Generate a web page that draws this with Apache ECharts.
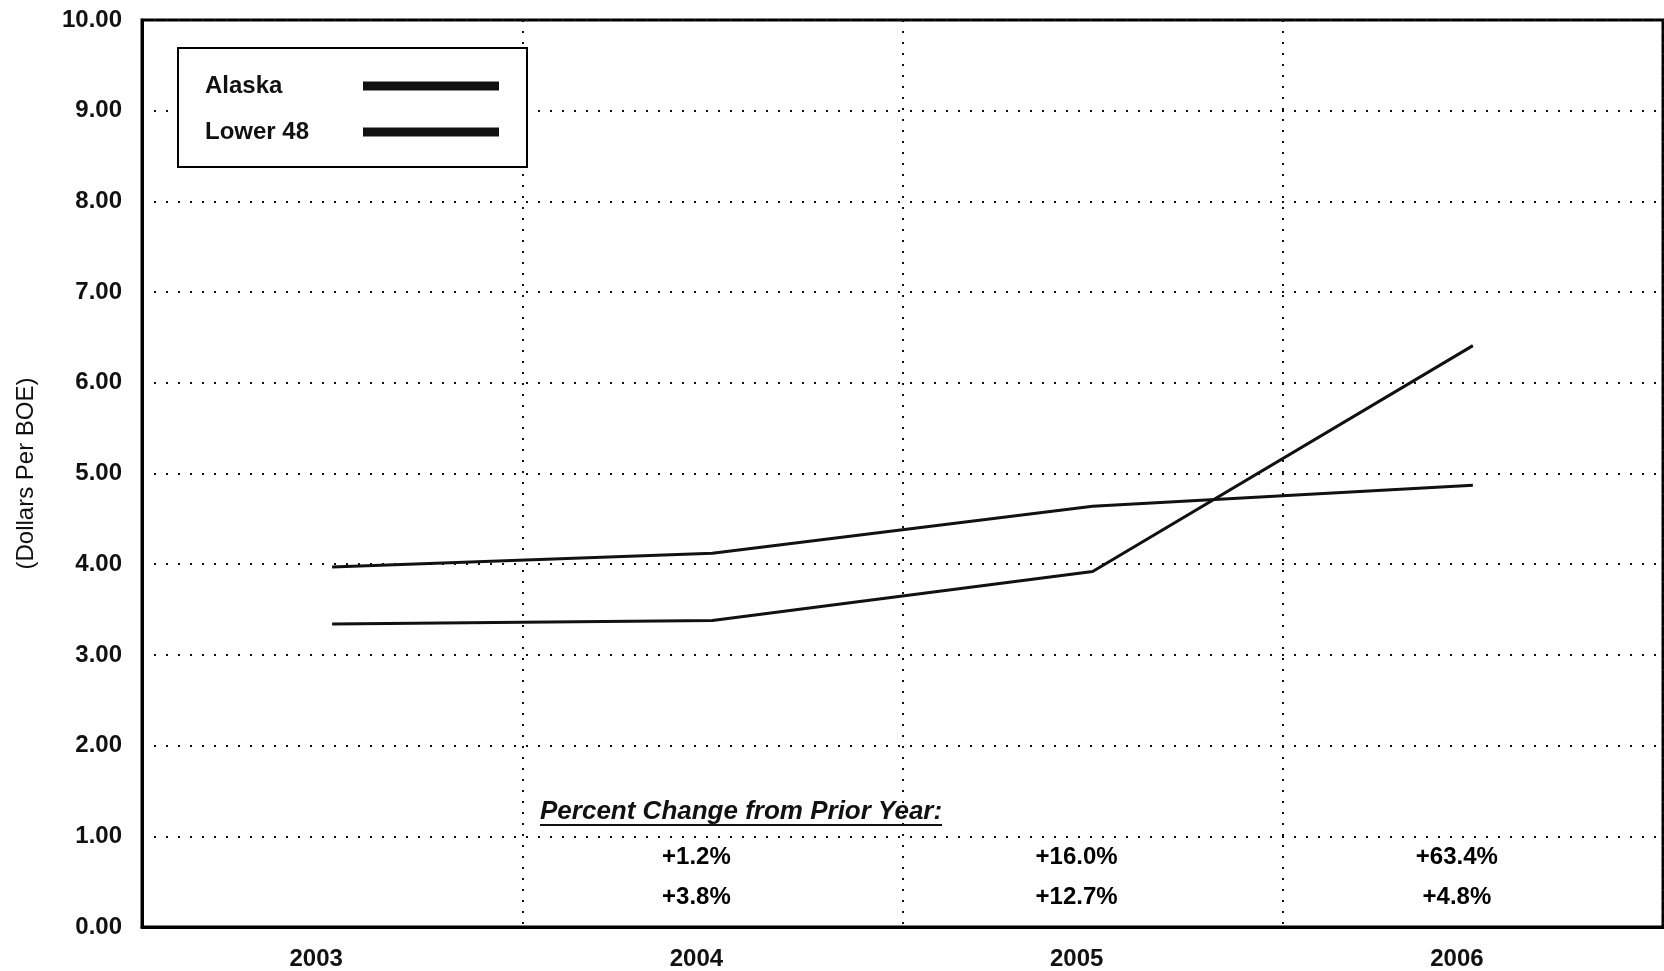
<!DOCTYPE html>
<html>
<head>
<meta charset="utf-8">
<title>Dollars Per BOE</title>
<script src="https://cdn.jsdelivr.net/npm/echarts@6/dist/echarts.min.js"></script>
<style>
  html, body { margin: 0; padding: 0; background: #fff; }
  #chart { width: 1664px; height: 971px; }
</style>
</head>
<body>
<div id="chart"></div>
<script>
// data
const years = ['2003', '2004', '2005', '2006'];
const alaska = [3.34, 3.38, 3.92, 6.41];
const lower48 = [3.97, 4.12, 4.64, 4.87];
const yTicks = [0, 1, 2, 3, 4, 5, 6, 7, 8, 9, 10];
// percent change from prior year, 2004..2006
const pctYears = ['2004', '2005', '2006'];
const alaskaPct = ['+1.2%', '+16.0%', '+63.4%'];
const lower48Pct = ['+3.8%', '+12.7%', '+4.8%'];

const FONT = '"Liberation Sans", Arial, sans-serif';

let chart = echarts.init(document.getElementById('chart'));

let pctLabel = (arr) => ({
    show: true,
    position: 'top',
    distance: 0,
    align: 'center',
    verticalAlign: 'middle',
    offset: [-16, 0],
    formatter: (p) => arr[p.dataIndex],
    fontFamily: FONT,
    fontWeight: 'bold',
    fontSize: 24,
    color: '#000',
    textBorderWidth: 0
});

let options = {
    backgroundColor: '#fff',
    animation: false,
    grid: {
        left: 142,
        top: 20,
        right: 1,
        bottom: 44,
        show: true,
        borderColor: '#000',
        borderWidth: 3
    },
    // legend box, text left / swatch right
    legend: {
        data: ['Alaska', 'Lower 48'],
        orient: 'vertical',
        left: 178,
        top: 48,
        align: 'right',
        icon: 'rect',
        itemWidth: 136,
        itemHeight: 9,
        itemGap: 22,
        padding: [26, 28, 23, 27],
        borderColor: '#000',
        borderWidth: 2,
        backgroundColor: '#fff',
        formatter: (name) => '{t|' + name + '}',
        textStyle: {
            rich: {
                t: {
                    fontFamily: FONT,
                    fontWeight: 'bold',
                    fontSize: 24,
                    color: '#111',
                    width: 153,
                    lineHeight: 28,
                    align: 'left'
                }
            }
        }
    },
    xAxis: {
        type: 'category',
        data: years,
        boundaryGap: true,
        axisLine: { lineStyle: { color: '#000', width: 3 } },
        axisTick: { show: false },
        axisLabel: {
            fontFamily: FONT,
            fontWeight: 'bold',
            fontSize: 24,
            color: '#111',
            margin: 20,
            padding: [0, 32, 0, 0]
        },
        splitLine: {
            show: true,
            lineStyle: { color: '#111', width: 2, type: [2, 9] }
        }
    },
    yAxis: {
        type: 'value',
        min: yTicks[0],
        max: yTicks[yTicks.length - 1],
        interval: 1,
        name: '(Dollars Per BOE)',
        nameLocation: 'middle',
        nameRotate: 90,
        nameGap: 104,
        nameTextStyle: { fontFamily: FONT, fontSize: 24, color: '#111' },
        axisLine: { show: true, lineStyle: { color: '#000', width: 3 } },
        axisTick: { show: false },
        axisLabel: {
            fontFamily: FONT,
            fontWeight: 'bold',
            fontSize: 24,
            color: '#111',
            margin: 20,
            formatter: (v) => v.toFixed(2)
        },
        splitLine: {
            show: true,
            lineStyle: { color: '#111', width: 2, type: [2, 10] }
        }
    },
    graphic: [
        {
            type: 'text',
            left: 540,
            top: 799,
            style: {
                text: 'Percent Change from Prior Year:',
                font: 'italic bold 26px ' + FONT,
                fill: '#111'
            }
        },
        {
            type: 'line',
            shape: { x1: 540, y1: 825, x2: 942, y2: 825 },
            style: { stroke: '#111', lineWidth: 2 }
        }
    ],
    series: [
        {
            name: 'Alaska',
            type: 'line',
            data: alaska,
            symbol: 'none',
            color: '#111',
            lineStyle: { color: '#111', width: 3 }
        },
        {
            name: 'Lower 48',
            type: 'line',
            data: lower48,
            symbol: 'none',
            color: '#111',
            lineStyle: { color: '#111', width: 3 }
        },
        {
            type: 'scatter',
            data: pctYears.map((y) => [y, 0.76]),
            symbolSize: 1,
            itemStyle: { color: 'rgba(0,0,0,0)', opacity: 1 },
            label: pctLabel(alaskaPct),
            silent: true
        },
        {
            type: 'scatter',
            data: pctYears.map((y) => [y, 0.32]),
            symbolSize: 1,
            itemStyle: { color: 'rgba(0,0,0,0)', opacity: 1 },
            label: pctLabel(lower48Pct),
            silent: true
        }
    ]
};

chart.setOption(options);
</script>
</body>
</html>
